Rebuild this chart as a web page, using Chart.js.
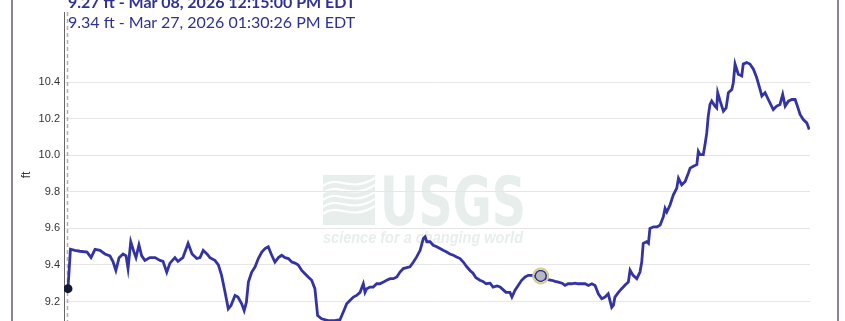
<!DOCTYPE html>
<html>
<head>
<meta charset="utf-8">
<script src="https://cdn.jsdelivr.net/npm/chart.js@4.4.1/dist/chart.umd.min.js"></script>
<style>
  html, body { margin: 0; padding: 0; background: #fff; overflow: hidden; }
  body { width: 845px; height: 321px; position: relative; }
  #frame { position: absolute; left: 11px; top: 0; width: 824px; height: 400px;
           border-left: 2px solid #8c8199; border-right: 2px solid #8c8199; }
  #wrap { position: absolute; left: 0; top: 0; width: 845px; height: 358px; }
  .readout { position: absolute; left: 68px; font-family: Lato, "Open Sans", sans-serif;
             font-size: 16px; line-height: 19px; color: #2e3192; white-space: nowrap; }
  #first { top: -8px; font-weight: bold; }
  #second { top: 12px; }
</style>
</head>
<body>
<div id="frame"></div>
<div id="wrap"><canvas id="gage" width="845" height="358"></canvas></div>
<div class="readout" id="first">9.27 ft - Mar 08, 2026 12:15:00 PM EDT</div>
<div class="readout" id="second">9.34 ft - Mar 27, 2026 01:30:26 PM EDT</div>
<script>
// days since Mar 08, 2026 12:15 PM EDT
const days = [
  0, 0.10, 0.28, 0.48, 0.77, 0.93, 1.09, 1.29, 1.49, 1.69,
  1.81, 1.93, 2.06, 2.22, 2.34, 2.42, 2.53, 2.66, 2.74, 2.86,
  2.97, 3.10, 3.30, 3.51, 3.71, 3.83, 3.98, 4.11, 4.31, 4.43,
  4.63, 4.84, 5.00, 5.19, 5.32, 5.45, 5.60, 5.72, 5.92, 6.06,
  6.19, 6.33, 6.46, 6.57, 6.73, 6.85, 7.00, 7.10, 7.19, 7.27,
  7.40, 7.54, 7.67, 7.81, 7.94, 8.07, 8.21, 8.34, 8.48, 8.61,
  8.75, 8.88, 9.02, 9.15, 9.28, 9.42, 9.55, 9.68, 9.82, 9.95,
  10.06, 10.22, 10.49, 10.76, 10.96, 11.09, 11.23, 11.36, 11.50, 11.63,
  11.77, 11.90, 11.97, 12.04, 12.17, 12.30, 12.44, 12.57, 12.71, 12.84,
  12.98, 13.11, 13.25, 13.38, 13.51, 13.65, 13.78, 13.92, 14.05, 14.19,
  14.32, 14.39, 14.46, 14.59, 14.72, 14.86, 14.99, 15.12, 15.26, 15.39,
  15.53, 15.66, 15.80, 15.93, 16.07, 16.20, 16.32, 16.44, 16.60, 16.72,
  16.85, 17.01, 17.13, 17.29, 17.41, 17.53, 17.65, 17.81, 17.89, 18.01,
  18.14, 18.28, 18.42, 18.55, 18.70, 18.86, 19.05, 19.22, 19.34, 19.49,
  19.63, 19.76, 19.91, 20.03, 20.15, 20.30, 20.43, 20.55, 20.70, 20.84,
  20.97, 21.11, 21.24, 21.37, 21.51, 21.64, 21.77, 21.91, 21.98, 22.04,
  22.18, 22.31, 22.45, 22.58, 22.65, 22.77, 22.92, 23.05, 23.12, 23.18,
  23.32, 23.39, 23.45, 23.60, 23.74, 23.86, 23.99, 24.06, 24.13, 24.26,
  24.39, 24.53, 24.60, 24.73, 24.87, 25.00, 25.07, 25.20, 25.34, 25.40,
  25.47, 25.60, 25.67, 25.74, 25.80, 25.87, 25.94, 26.07, 26.14, 26.18,
  26.28, 26.41, 26.52, 26.61, 26.75, 26.81, 26.88, 27.01, 27.15, 27.21,
  27.35, 27.48, 27.62, 27.75, 27.89, 27.96, 28.09, 28.22, 28.42, 28.56,
  28.69, 28.80, 28.90, 29.03, 29.17, 29.30, 29.37, 29.50, 29.63, 29.77,
  29.87
];

// gage height, ft
const stage = [
  9.27, 9.486, 9.48, 9.475, 9.47, 9.44, 9.485, 9.48, 9.46, 9.45,
  9.42, 9.37, 9.44, 9.46, 9.45, 9.38, 9.527, 9.47, 9.44, 9.51,
  9.45, 9.425, 9.44, 9.44, 9.425, 9.42, 9.36, 9.41, 9.44, 9.42,
  9.44, 9.518, 9.46, 9.435, 9.44, 9.48, 9.46, 9.44, 9.425, 9.40,
  9.343, 9.25, 9.16, 9.178, 9.233, 9.224, 9.187, 9.15, 9.196, 9.306,
  9.36, 9.39, 9.435, 9.471, 9.49, 9.50, 9.453, 9.416, 9.44, 9.453,
  9.44, 9.435, 9.416, 9.41, 9.40, 9.37, 9.352, 9.334, 9.316, 9.27,
  9.123, 9.105, 9.095, 9.095, 9.10, 9.141, 9.187, 9.205, 9.224, 9.233,
  9.25, 9.297, 9.25, 9.27, 9.279, 9.279, 9.297, 9.297, 9.306, 9.316,
  9.325, 9.325, 9.334, 9.361, 9.38, 9.385, 9.39, 9.416, 9.444, 9.48,
  9.545, 9.554, 9.527, 9.527, 9.508, 9.50, 9.49, 9.48, 9.471, 9.46,
  9.453, 9.444, 9.435, 9.416, 9.39, 9.37, 9.355, 9.33, 9.316, 9.31,
  9.297, 9.30, 9.279, 9.285, 9.279, 9.265, 9.25, 9.25, 9.224, 9.26,
  9.288, 9.316, 9.334, 9.343, 9.343, 9.334, 9.34, 9.325, 9.32, 9.316,
  9.31, 9.306, 9.30, 9.288, 9.297, 9.297, 9.30, 9.297, 9.297, 9.297,
  9.288, 9.297, 9.288, 9.242, 9.215, 9.224, 9.242, 9.168, 9.18, 9.224,
  9.25, 9.27, 9.29, 9.306, 9.371, 9.343, 9.325, 9.361, 9.416, 9.518,
  9.527, 9.518, 9.60, 9.609, 9.609, 9.618, 9.664, 9.71, 9.69, 9.728,
  9.783, 9.82, 9.875, 9.838, 9.857, 9.903, 9.93, 9.94, 9.949, 10.022,
  10.004, 10.004, 10.059, 10.123, 10.215, 10.279, 10.297, 10.27, 10.26, 10.343,
  10.297, 10.242, 10.26, 10.343, 10.36, 10.398, 10.5, 10.444, 10.435, 10.5,
  10.508, 10.5, 10.472, 10.426, 10.36, 10.325, 10.343, 10.306, 10.251, 10.27,
  10.279, 10.334, 10.27, 10.297, 10.306, 10.306, 10.279, 10.224, 10.196, 10.178,
  10.141
];

const yTicks = [9.0, 9.2, 9.4, 9.6, 9.8, 10.0, 10.2, 10.4];

// reading under the cursor (Mar 27, 01:30:26 PM)
const hoverDay = 19.05;
const hoverFt = 9.34;

// faint USGS identifier behind the grid
const watermark = {
  id: 'watermark',
  beforeDraw(chart) {
    const c = chart.ctx;
    const tint = '#e7eeeb';
    c.save();
    // wave box
    c.fillStyle = tint;
    c.fillRect(323, 175, 52, 50);
    c.strokeStyle = '#ffffff';
    c.lineWidth = 2.2;
    for (let i = 0; i < 5; i++) {
      const y0 = 180 + i * 7;
      c.beginPath();
      c.moveTo(323, y0 + 6);
      c.bezierCurveTo(338, y0 - 6, 350, y0 + 14, 375, y0 - 2);
      c.stroke();
    }
    // USGS letters
    c.fillStyle = tint;
    c.textBaseline = 'alphabetic';
    c.font = 'bold 68px "Liberation Sans Narrow", "DejaVu Sans Condensed", "Liberation Sans"';
    let w = c.measureText('USGS').width;
    c.save();
    c.translate(380, 225);
    c.scale(146 / w, 1);
    c.fillText('USGS', 0, 0);
    c.restore();
    // tagline
    c.font = 'italic bold 16px "Liberation Sans", Arial, sans-serif';
    w = c.measureText('science for a changing world').width;
    c.save();
    c.translate(323, 243);
    c.scale(200 / w, 1);
    c.fillText('science for a changing world', 0, 0);
    c.restore();
    c.restore();
  }
};

// dashed marker at the start of the period
const startLine = {
  id: 'startLine',
  beforeDatasetsDraw(chart) {
    const c = chart.ctx;
    const x = Math.round(chart.scales.x.getPixelForValue(days[0])) - 0.5;
    const {top, bottom} = chart.chartArea;
    c.save();
    c.strokeStyle = '#b0b0b0';
    c.lineWidth = 1.5;
    c.setLineDash([4, 3]);
    c.beginPath();
    c.moveTo(x, top);
    c.lineTo(x, bottom);
    c.stroke();
    c.restore();
  }
};

const ctx = document.getElementById('gage').getContext('2d');

new Chart(ctx, {
  type: 'line',
  data: {
    datasets: [
      {
        label: 'hover ring',
        data: [{x: hoverDay, y: hoverFt}],
        showLine: false,
        pointRadius: 7.5,
        pointBackgroundColor: 'rgba(0,0,0,0)',
        pointBorderColor: '#d6cd8c',
        pointBorderWidth: 2,
        order: 0
      },
      {
        label: 'hover',
        data: [{x: hoverDay, y: hoverFt}],
        showLine: false,
        pointRadius: 5.5,
        pointBackgroundColor: '#b8b8c0',
        pointBorderColor: '#2e3192',
        pointBorderWidth: 1.5,
        order: 1
      },
      {
        label: 'start',
        data: [{x: days[0], y: stage[0]}],
        showLine: false,
        pointRadius: 4.5,
        pointBackgroundColor: '#141a33',
        pointBorderWidth: 0,
        order: 2
      },
      {
        label: 'Gage height, ft',
        data: days.map((d, i) => ({x: d, y: stage[i]})),
        borderColor: '#3333a3',
        borderWidth: 2.8,
        borderJoinStyle: 'miter',
        pointRadius: 0,
        tension: 0,
        fill: false,
        order: 5
      }
    ]
  },
  options: {
    responsive: false,
    animation: false,
    events: [],
    layout: { padding: { left: 13, right: 35, top: 12, bottom: 20 } },
    plugins: {
      legend: { display: false },
      tooltip: { enabled: false }
    },
    scales: {
      x: {
        type: 'linear',
        min: -0.16,
        max: 29.9,
        display: false
      },
      y: {
        min: 9.0,
        max: 10.785,
        afterBuildTicks: s => { s.ticks = yTicks.map(v => ({value: v})); },
        afterFit: s => { s.width = 51; },
        grid: { color: '#e6e6e6', lineWidth: 1, drawTicks: false },
        border: { display: true, color: '#666666', width: 1 },
        ticks: {
          padding: 4,
          color: '#333333',
          font: { family: '"Liberation Sans", Arial, sans-serif', size: 11 },
          callback: v => Number(v).toFixed(1)
        },
        title: {
          display: true,
          text: 'ft',
          color: '#333333',
          font: { family: '"Liberation Sans", Arial, sans-serif', size: 12 },
          padding: { top: 6, bottom: 0 }
        }
      }
    }
  },
  plugins: [watermark, startLine]
});
</script>
</body>
</html>
